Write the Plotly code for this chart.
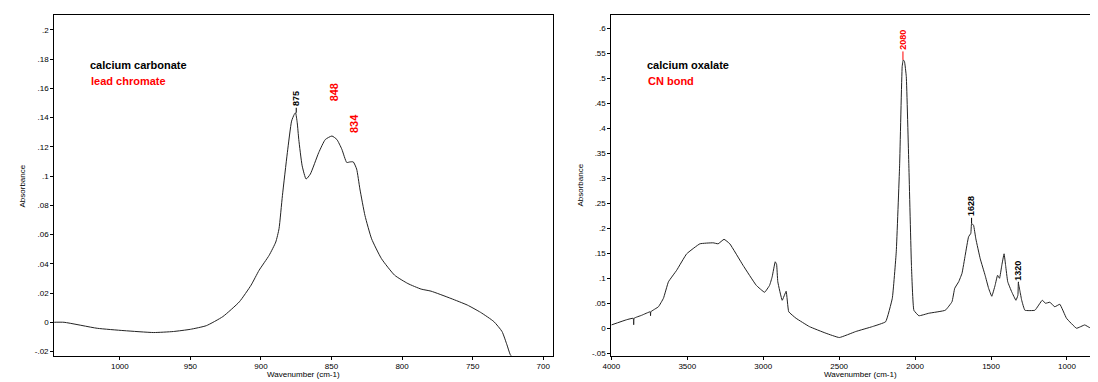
import plotly.graph_objects as go

# ---- Left spectrum (calcium carbonate / lead chromate) ----
left_x = [1047.5, 1039.5, 1016, 997, 976, 962, 950, 938.7, 927, 915.3, 907, 901.3, 894.2, 889.5,
          887.2, 884.8, 881.3, 878.3, 876.5, 875.5, 874.3, 873.2, 870.8, 868, 865, 859.1, 854.4,
          849.7, 846.2, 842.7, 839.2, 836.9, 834.6, 832.2, 829.9, 826.3, 821.6, 814.6, 805.3,
          795.9, 786.5, 779.5, 765.4, 753.8, 744.4, 735, 729.2, 725.7, 723.3, 720]
left_y = [0.0, 0.0, -0.0041, -0.0057, -0.007, -0.0063, -0.0048, -0.0023, 0.0039, 0.014, 0.0254,
          0.0356, 0.0458, 0.0549, 0.064, 0.0866, 0.116, 0.1376, 0.142, 0.1433, 0.1365, 0.125,
          0.107, 0.098, 0.1014, 0.116, 0.125, 0.1274, 0.125, 0.1184, 0.1093, 0.1097, 0.1097,
          0.1048, 0.0912, 0.073, 0.0571, 0.0435, 0.0322, 0.0265, 0.0227, 0.0213, 0.0163, 0.0118,
          0.0068, 0.0005, -0.0063, -0.0154, -0.0222, -0.026]

# ---- Right spectrum (calcium oxalate / CN bond) ----
right_x = [4000, 3900, 3856, 3853, 3850, 3800, 3744, 3742, 3740, 3690, 3657, 3624, 3570, 3504,
           3417, 3330, 3297, 3258, 3220, 3133, 3046, 2991, 2958, 2941, 2921, 2912, 2904, 2875,
           2849, 2832, 2784, 2696, 2587, 2499, 2391, 2281, 2194, 2150, 2124, 2102, 2085, 2078,
           2070, 2058, 2041, 2024, 2008, 1975, 1910, 1801, 1757, 1739, 1713, 1691, 1670, 1648,
           1633, 1628, 1615, 1600, 1571, 1539, 1516, 1495, 1473, 1457, 1444, 1429, 1414, 1404,
           1390, 1364, 1336, 1323, 1320, 1310, 1298, 1277, 1211, 1163, 1141, 1113, 1080, 1047,
           1003, 937, 883, 850, 818, 788, 760, 700]
right_y = [0.0066, 0.017, 0.02, 0.007, 0.02, 0.026, 0.033, 0.025, 0.033, 0.043, 0.06, 0.093,
           0.116, 0.149, 0.169, 0.171, 0.169, 0.178, 0.169, 0.126, 0.086, 0.072, 0.086, 0.103,
           0.133, 0.128, 0.093, 0.056, 0.074, 0.033, 0.02, 0.0033, -0.01, -0.0186, -0.0066,
           0.0033, 0.013, 0.06, 0.153, 0.325, 0.524, 0.537, 0.534, 0.504, 0.325, 0.126, 0.036,
           0.025, 0.03, 0.036, 0.053, 0.08, 0.093, 0.11, 0.146, 0.183, 0.19, 0.21, 0.206, 0.179,
           0.139, 0.106, 0.08, 0.064, 0.086, 0.106, 0.1, 0.126, 0.149, 0.126, 0.093, 0.073,
           0.056, 0.066, 0.09, 0.075, 0.056, 0.036, 0.036, 0.056, 0.05, 0.052, 0.043, 0.048,
           0.02, 0.0, 0.0066, 0.0013, 0.003, 0.013, 0.03, 0.06]

left_yticks = [-0.02, 0, 0.02, 0.04, 0.06, 0.08, 0.1, 0.12, 0.14, 0.16, 0.18, 0.2]
left_ytext = ["-.02", "0", ".02", ".04", ".06", ".08", ".1", ".12", ".14", ".16", ".18", ".2"]
left_xticks = [1000, 950, 900, 850, 800, 750, 700]
right_yticks = [-0.05, 0, 0.05, 0.1, 0.15, 0.2, 0.25, 0.3, 0.35, 0.4, 0.45, 0.5, 0.55, 0.6]
right_ytext = ["-.05", "0", ".05", ".1", ".15", ".2", ".25", ".3", ".35", ".4", ".45", ".5", ".55", ".6"]
right_xticks = [4000, 3500, 3000, 2500, 2000, 1500, 1000]

left_peaks = [(875, 0.1433, "875", "black", 9, -14, True),
              (848, 0.1274, "848", "red", 11, -44, False),
              (834, 0.1097, "834", "red", 11, -38, False)]
right_peaks = [(2080, 0.537, "2080", "red", 9, -20, True),
               (1628, 0.21, "1628", "black", 9, -17, True),
               (1320, 0.09, "1320", "black", 9, -13, True)]

# The page body has an 8px default margin: all screen positions are shifted by it.
OFF = 8
W, H = 1098 - OFF, 382 - OFF
FONT = "Liberation Sans, Arial, sans-serif"


def px(sx):
    return (sx - OFF) / W


def py(sy):
    return 1 - (sy - OFF) / H


fig = go.Figure()
fig.add_trace(go.Scatter(x=left_x, y=left_y, mode="lines",
                         line=dict(color="#222222", width=1, shape="spline", smoothing=0.5),
                         xaxis="x", yaxis="y", showlegend=False, hoverinfo="skip"))
fig.add_trace(go.Scatter(x=right_x, y=right_y, mode="lines",
                         line=dict(color="#222222", width=1, shape="spline", smoothing=0.3),
                         xaxis="x2", yaxis="y2", showlegend=False, hoverinfo="skip"))

ydom = [py(357.5), py(15)]
axis_common = dict(showgrid=False, zeroline=False, showline=True, linecolor="black", linewidth=1,
                   ticks="outside", ticklen=3, tickcolor="black", tickwidth=1,
                   tickfont=dict(family=FONT, size=8, color="black"))

fig.update_layout(
    width=W, height=H, margin=dict(l=0, r=0, t=0, b=0),
    paper_bgcolor="white", plot_bgcolor="white",
    xaxis=dict(domain=[px(45.5), px(548)], range=[1046.5, 693.4], tickvals=left_xticks,
               mirror=True, anchor="y", **axis_common),
    yaxis=dict(domain=ydom, range=[-0.0228, 0.2102], tickvals=left_yticks, ticktext=left_ytext,
               mirror=True, anchor="x", **axis_common),
    xaxis2=dict(domain=[px(607.3), 1.0], range=[4000, 795.6], tickvals=right_xticks,
                mirror=True, anchor="y2", **axis_common),
    yaxis2=dict(domain=ydom, range=[-0.0548, 0.627], tickvals=right_yticks, ticktext=right_ytext,
                mirror=False, anchor="x2", **axis_common),
)

ann = []
# axis titles
for xc in [296.5, 859]:
    ann.append(dict(xref="paper", yref="paper", x=px(xc), y=py(376.5), text="Wavenumber (cm-1)",
                    showarrow=False, font=dict(family=FONT, size=8, color="black"),
                    xanchor="center", yanchor="middle"))
for xc in [14, 576.7]:
    ann.append(dict(xref="paper", yref="paper", x=px(xc), y=py(186.5), text="Absorbance",
                    showarrow=False, textangle=-90, font=dict(family=FONT, size=8, color="black"),
                    xanchor="center", yanchor="middle"))
# legend-like labels
for (xl, yc, txt, col) in [(80, 65, "calcium carbonate", "black"), (81, 81.5, "lead chromate", "red"),
                           (641.5, 65, "calcium oxalate", "black"), (642.5, 81.5, "CN bond", "red")]:
    ann.append(dict(xref="paper", yref="paper", x=px(xl), y=py(yc), text="<b>%s</b>" % txt,
                    showarrow=False, font=dict(family=FONT, size=11, color=col),
                    xanchor="left", yanchor="middle"))
# peak labels
for peaks, xr, yr in [(left_peaks, "x", "y"), (right_peaks, "x2", "y2")]:
    for (pkx, pky, txt, col, fs, ay, arrow) in peaks:
        ann.append(dict(xref=xr, yref=yr, x=pkx, y=pky, text="<b>%s</b>" % txt, textangle=-90,
                        showarrow=True, arrowhead=0, arrowwidth=1,
                        arrowcolor=col if arrow else "rgba(0,0,0,0)", ax=0, ay=ay,
                        font=dict(family=FONT, size=fs, color=col)))
# partially visible label at the cropped right edge
ann.append(dict(xref="paper", yref="paper", x=1.0, y=py(309), text="<b>786</b>", textangle=-90,
                showarrow=False, font=dict(family=FONT, size=9, color="black"),
                xanchor="left", xshift=-4, yanchor="middle"))
fig.update_layout(annotations=ann)

fig.write_html("out.html")
